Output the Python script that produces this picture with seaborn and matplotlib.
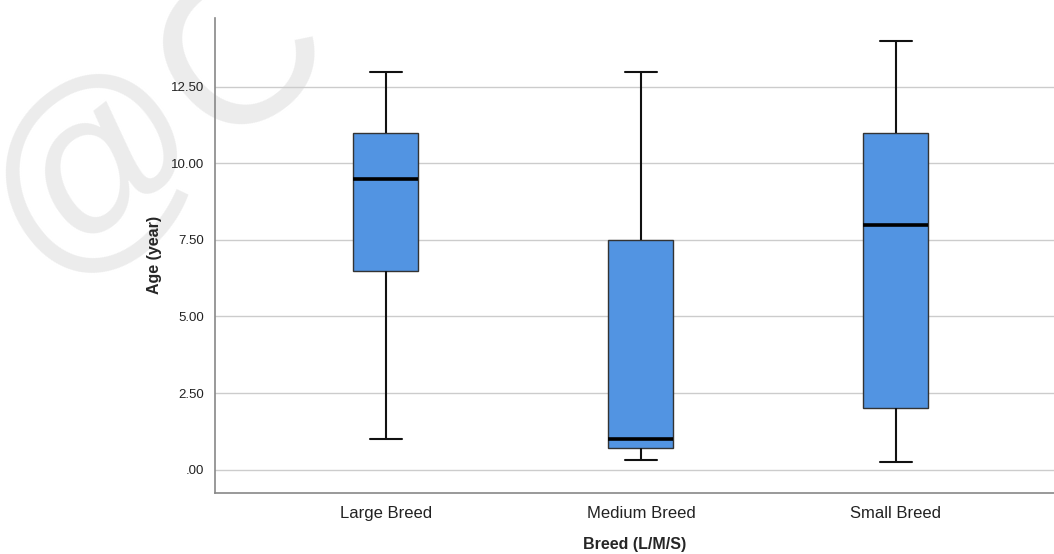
import pandas as pd
import matplotlib
matplotlib.use("Agg")
import matplotlib.pyplot as plt
import seaborn as sns
from matplotlib.ticker import FuncFormatter

# five-point summaries: min, Q1, median, Q3, max
breeds = ["Large Breed", "Medium Breed", "Small Breed"]
large_age = [1.0, 6.5, 9.5, 11.0, 13.0]
medium_age = [0.3, 0.7, 1.0, 7.5, 13.0]
small_age = [0.25, 2.0, 8.0, 11.0, 14.0]

df = pd.DataFrame({
    "Breed (L/M/S)": [breeds[0]] * 5 + [breeds[1]] * 5 + [breeds[2]] * 5,
    "Age (year)": large_age + medium_age + small_age,
})

sns.set_style("white")
plt.rcParams["font.family"] = ["Liberation Sans", "DejaVu Sans"]

fig = plt.figure(figsize=(10.54, 5.54), dpi=100)
ax = fig.add_axes([0.204, 0.111, 0.796, 0.857])
ax.set_facecolor("none")

# faint watermark behind the plot
fig.text(0.15, 0.78, "@C", fontsize=155, color="#ececec", rotation=38,
         zorder=-10, va="center", ha="center")

sns.boxplot(data=df, x="Breed (L/M/S)", y="Age (year)", order=breeds,
            whis=(0, 100), width=0.255, color="#5294e2", saturation=1,
            linecolor="#222222", linewidth=1.2, ax=ax,
            medianprops=dict(color="black", linewidth=2.6),
            whiskerprops=dict(color="#111111", linewidth=1.5),
            capprops=dict(color="#111111", linewidth=1.5),
            boxprops=dict(edgecolor="#333333", linewidth=1.0))

ax.set_ylim(-0.75, 14.76)
ax.set_xlim(-0.67, 2.62)
ax.set_yticks([0, 2.5, 5, 7.5, 10, 12.5])
ax.yaxis.set_major_formatter(FuncFormatter(lambda v, p: ".00" if v == 0 else f"{v:.2f}"))
ax.yaxis.grid(True, color="#cccccc", linewidth=1)
ax.set_axisbelow(True)
ax.tick_params(axis="both", length=0)
ax.tick_params(axis="y", labelsize=9.5, colors="#222222", pad=8)
ax.tick_params(axis="x", labelsize=12, colors="#222222", pad=10)

for side in ["top", "right"]:
    ax.spines[side].set_visible(False)
for side in ["left", "bottom"]:
    ax.spines[side].set_color("#888888")
    ax.spines[side].set_linewidth(1.2)

ax.set_ylabel("Age (year)", fontsize=11.5, fontweight="bold", labelpad=6)
ax.set_xlabel("Breed (L/M/S)", fontsize=11.5, fontweight="bold", labelpad=11)

fig.savefig("out.png", dpi=100)
